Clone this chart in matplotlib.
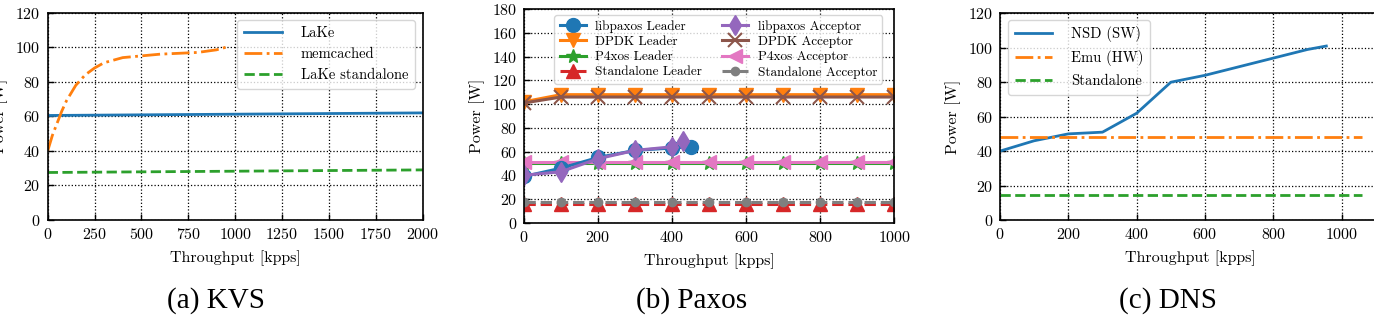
import numpy as np
import matplotlib
matplotlib.use("Agg")
import matplotlib.pyplot as plt

# ---- data: (a) KVS ----
kvs_x = [0, 2000]
lake = [60.5, 62]
lake_standalone = [27.5, 29]
memc_x = [0, 25, 50, 75, 100, 150, 200, 250, 300, 400, 500, 600, 700, 800, 900, 950]
memc_y = [40, 49, 56, 63, 69, 78, 84, 88, 91, 94, 95, 96, 96.5, 97, 98.5, 100]

# ---- data: (b) Paxos ----
pax_x = [0, 100, 200, 300, 400, 500, 600, 700, 800, 900, 1000]
libpaxos_leader_x = [0, 100, 200, 300, 400, 450]
libpaxos_leader = [39, 46, 55, 61, 63, 64]
libpaxos_acc_x = [0, 100, 200, 300, 400, 430]
libpaxos_acc = [40, 43, 54, 61, 64, 69]
dpdk_leader = [102, 108, 108, 108, 108, 108, 108, 108, 108, 108, 108]
dpdk_acc = [101, 106, 106, 106, 106, 106, 106, 106, 106, 106, 106]
p4xos_leader = [50.5] * 11
p4xos_acc = [51] * 11
standalone_leader = [16] * 11
standalone_acc = [17.5] * 11

# ---- data: (c) DNS ----
nsd_x = [0, 100, 200, 300, 400, 500, 600, 700, 800, 900, 955]
nsd = [40, 46, 50, 51, 62, 80, 84, 89, 94, 99, 101]
dns_flat_x = [0, 1060]
emu = [48, 48]
dns_standalone = [14.5, 14.5]

plt.rcParams['font.family'] = ['cmr10', 'DejaVu Serif']
plt.rcParams['axes.formatter.use_mathtext'] = True
plt.rcParams['font.size'] = 11

W, H = 1374, 318
fig = plt.figure(figsize=(W / 100, H / 100), dpi=100)

def px_axes(left, top, right, bottom):
    return fig.add_axes([left / W, 1 - bottom / H, (right - left) / W, (bottom - top) / H])

def style(ax):
    ax.grid(True, color='black', linestyle=':', linewidth=0.9)
    ax.tick_params(direction='in', length=4, width=1, labelsize=11.5, pad=5)
    for s in ax.spines.values():
        s.set_linewidth(1.2)
    ax.set_xlabel("Throughput [kpps]", fontsize=11.5, labelpad=6)
    ax.set_ylabel("Power [W]", fontsize=11.5, labelpad=5)

blue, orange, green, red = 'tab:blue', 'tab:orange', 'tab:green', 'tab:red'

# (a) KVS
ax1 = px_axes(47.7, 12.7, 422.7, 220)
ax1.plot(kvs_x, lake, color=blue, lw=2, label='LaKe')
ax1.plot(memc_x, memc_y, color=orange, lw=2, ls='-.', label='memcached')
ax1.plot(kvs_x, lake_standalone, color=green, lw=2, ls='--', label='LaKe standalone')
ax1.set_xlim(0, 2000)
ax1.set_ylim(0, 120)
ax1.set_xticks(np.arange(0, 2001, 250))
ax1.set_yticks(np.arange(0, 121, 20))
style(ax1)
ax1.legend(loc='upper right', fontsize=10.5, handlelength=2.6, labelspacing=0.5,
           borderpad=0.45, handletextpad=1.3, borderaxespad=0,
           bbox_to_anchor=(0.979, 0.965))

# (b) Paxos
ax2 = px_axes(524, 9.3, 894.3, 222.7)
ms = 10
ax2.plot(pax_x, dpdk_leader, color=orange, lw=2.2, marker='v', ms=ms, label='DPDK Leader')
ax2.plot(pax_x, p4xos_leader, color=green, lw=2.2, marker='*', ms=ms, label='P4xos Leader')
ax2.plot(pax_x, standalone_leader, color=red, lw=2.2, ls='--', marker='^', ms=ms, label='Standalone Leader')
ax2.plot(pax_x, dpdk_acc, color='tab:brown', lw=2.2, marker='x', ms=ms, mew=1.5, label='DPDK Acceptor')
ax2.plot(pax_x, p4xos_acc, color='tab:pink', lw=2.2, marker='<', ms=ms, label='P4xos Acceptor')
ax2.plot(pax_x, standalone_acc, color='tab:gray', lw=2.2, ls='--', marker='o', ms=6, label='Standalone Acceptor')
ax2.plot(libpaxos_leader_x, libpaxos_leader, color=blue, lw=2.2, marker='o', ms=ms, label='libpaxos Leader')
ax2.plot(libpaxos_acc_x, libpaxos_acc, color='tab:purple', lw=2.2, marker='d', ms=ms, label='libpaxos Acceptor')
ax2.set_xlim(0, 1000)
ax2.set_ylim(0, 180)
ax2.set_xticks(np.arange(0, 1001, 200))
ax2.set_yticks(np.arange(0, 181, 20))
style(ax2)
h, l = ax2.get_legend_handles_labels()
order = ['libpaxos Leader', 'DPDK Leader', 'P4xos Leader', 'Standalone Leader',
         'libpaxos Acceptor', 'DPDK Acceptor', 'P4xos Acceptor', 'Standalone Acceptor']
hd = dict(zip(l, h))
ax2.legend([hd[k] for k in order], order, loc='upper center', ncol=2, fontsize=9.5,
           handlelength=2.0, handletextpad=0.7, labelspacing=0.22, columnspacing=1.5,
           borderpad=0.4, borderaxespad=0, bbox_to_anchor=(0.525, 0.973))

# (c) DNS
ax3 = px_axes(1000, 13.3, 1380, 220)
ax3.plot(nsd_x, nsd, color=blue, lw=2, label='NSD (SW)')
ax3.plot(dns_flat_x, emu, color=orange, lw=2, ls='-.', label='Emu (HW)')
ax3.plot(dns_flat_x, dns_standalone, color=green, lw=2, ls='--', label='Standalone')
ax3.set_xlim(0, 1000 * 380 / 341.7)
ax3.set_ylim(0, 120)
ax3.set_xticks(np.arange(0, 1001, 200))
ax3.set_yticks(np.arange(0, 121, 20))
style(ax3)
ax3.legend(loc='upper left', fontsize=10.5, handlelength=2.6, labelspacing=0.55,
           borderpad=0.45, handletextpad=1.3, borderaxespad=0,
           bbox_to_anchor=(0.021, 0.968))

# captions
for x, txt in [(216, "(a) KVS"), (692, "(b) Paxos"), (1168, "(c) DNS")]:
    fig.text(x / W, 1 - 301 / H, txt, ha='center', va='center',
             fontsize=21, family='Liberation Serif')

fig.savefig("out.png", dpi=100)
